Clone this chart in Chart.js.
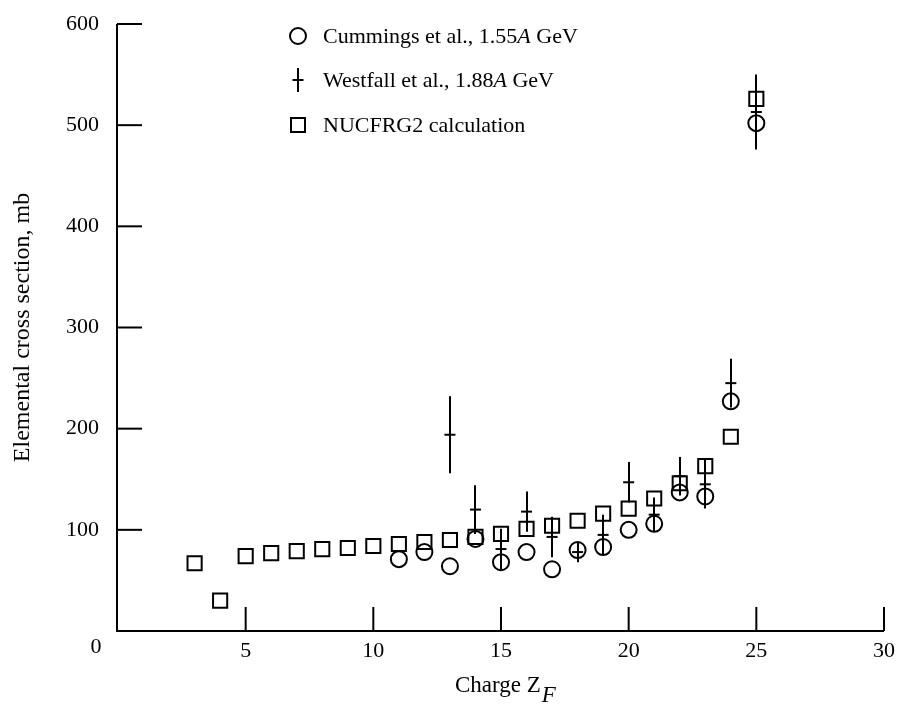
<!DOCTYPE html>
<html>
<head>
<meta charset="utf-8">
<script src="https://cdn.jsdelivr.net/npm/chart.js@4.4.0/dist/chart.umd.min.js"></script>
<style>
  html, body { margin: 0; padding: 0; background: #ffffff; }
  #wrap { width: 898px; height: 706px; }
</style>
</head>
<body>
<div id="wrap"><canvas id="c" width="898" height="706"></canvas></div>
<script>
// ---- Data ----
const nucfrgZ     = [3, 4, 5, 6, 7, 8, 9, 10, 11, 12, 13, 14, 15, 16, 17, 18, 19, 20, 21, 22, 23, 24, 25];
const nucfrgSigma = [67, 30, 74, 77, 79, 81, 82, 84, 86, 88, 90, 93, 96, 101, 104, 109, 116, 121, 131, 146, 163, 192, 526];

const cummingsZ     = [11, 12, 13, 14, 15, 16, 17, 18, 19, 20, 21, 22, 23, 24, 25];
const cummingsSigma = [71, 78, 64, 91, 68, 78, 61, 80, 83, 100, 106, 137, 133, 227, 502];

const westfallZ     = [13, 14, 15, 16, 17, 18, 19, 20, 21, 22, 23, 24, 25];
const westfallSigma = [194, 120, 81, 118, 93, 78, 95, 147, 115, 153, 145, 245, 513];
const westfallErr   = [38, 24, 20, 20, 20, 10, 20, 20, 17, 19, 24, 24, 37];

const xTicks = [0, 5, 10, 15, 20, 25, 30];
const yTicks = [0, 100, 200, 300, 400, 500, 600];

const legendLabels = [
  ['Cummings et al., 1.55', 'A', ' GeV'],
  ['Westfall et al., 1.88', 'A', ' GeV'],
  ['NUCFRG2 calculation', '', '']
];

const FONT = '"Liberation Serif", "DejaVu Serif", serif';

function pts(xs, ys) { return xs.map((x, i) => ({ x: x, y: ys[i] })); }

const overlay = {
  id: 'overlay',
  afterDatasetsDraw(chart) {
    const ctx = chart.ctx;
    const xs = chart.scales.x, ys = chart.scales.y;
    const ca = chart.chartArea;
    ctx.save();
    ctx.strokeStyle = '#000';
    ctx.fillStyle = '#000';
    // error bars for Westfall
    ctx.lineWidth = 2;
    westfallZ.forEach((z, i) => {
      const px = Math.round(xs.getPixelForValue(z));
      const y1 = ys.getPixelForValue(westfallSigma[i] - westfallErr[i]);
      const y2 = ys.getPixelForValue(westfallSigma[i] + westfallErr[i]);
      ctx.beginPath();
      ctx.moveTo(px, y1);
      ctx.lineTo(px, y2);
      ctx.stroke();
    });
    // axes lines
    const axX = ca.left - 1;
    ctx.lineWidth = 2;
    ctx.beginPath();
    ctx.moveTo(axX, ys.getPixelForValue(600));
    ctx.lineTo(axX, ca.bottom);
    ctx.lineTo(xs.getPixelForValue(30), ca.bottom);
    ctx.stroke();
    // inward ticks
    xTicks.forEach(v => {
      if (v === 0) return;
      const px = xs.getPixelForValue(v);
      ctx.beginPath();
      ctx.moveTo(px, ca.bottom);
      ctx.lineTo(px, ca.bottom - 24);
      ctx.stroke();
    });
    yTicks.forEach(v => {
      if (v === 0) return;
      const py = ys.getPixelForValue(v);
      ctx.beginPath();
      ctx.moveTo(axX, py);
      ctx.lineTo(axX + 25, py);
      ctx.stroke();
    });
    // corner "0"
    ctx.font = '22px ' + FONT;
    ctx.textAlign = 'center';
    ctx.textBaseline = 'middle';
    ctx.fillText('0', 96, 647);

    // x axis title: Charge Z_F
    ctx.textAlign = 'left';
    ctx.textBaseline = 'alphabetic';
    ctx.font = '23px ' + FONT;
    const t1 = 'Charge Z';
    const w1 = ctx.measureText(t1).width;
    const startX = 455;
    ctx.fillText(t1, startX, 692);
    ctx.font = 'italic 23px ' + FONT;
    ctx.fillText('F', startX + w1 + 1, 702);

    // legend
    const lx = 298, tx = 323;
    const rows = [36, 80, 125];
    ctx.lineWidth = 2;
    ctx.beginPath();
    ctx.arc(lx, rows[0], 8, 0, Math.PI * 2);
    ctx.stroke();
    ctx.beginPath();
    ctx.moveTo(lx, rows[1] - 12);
    ctx.lineTo(lx, rows[1] + 12);
    ctx.moveTo(lx - 5.5, rows[1]);
    ctx.lineTo(lx + 5.5, rows[1]);
    ctx.stroke();
    ctx.strokeRect(lx - 7, rows[2] - 7, 14, 14);
    ctx.textBaseline = 'middle';
    legendLabels.forEach((parts, i) => {
      let x = tx;
      ctx.font = '22px ' + FONT;
      ctx.fillText(parts[0], x, rows[i] + 1);
      x += ctx.measureText(parts[0]).width;
      if (parts[1]) {
        ctx.font = 'italic 22px ' + FONT;
        ctx.fillText(parts[1], x, rows[i] + 1);
        x += ctx.measureText(parts[1]).width;
      }
      if (parts[2]) {
        ctx.font = '22px ' + FONT;
        ctx.fillText(parts[2], x, rows[i] + 1);
      }
    });
    ctx.restore();
  }
};

new Chart(document.getElementById('c'), {
  type: 'scatter',
  data: {
    datasets: [
      {
        label: 'NUCFRG2 calculation',
        data: pts(nucfrgZ, nucfrgSigma),
        pointStyle: 'rect',
        pointRadius: 10,
        borderColor: '#000',
        backgroundColor: 'rgba(0,0,0,0)',
        borderWidth: 2
      },
      {
        label: 'Cummings et al., 1.55A GeV',
        data: pts(cummingsZ, cummingsSigma),
        pointStyle: 'circle',
        pointRadius: 8,
        borderColor: '#000',
        backgroundColor: 'rgba(0,0,0,0)',
        borderWidth: 2
      },
      {
        label: 'Westfall et al., 1.88A GeV',
        data: pts(westfallZ, westfallSigma),
        pointStyle: 'line',
        pointRadius: 5.5,
        borderColor: '#000',
        backgroundColor: '#000',
        borderWidth: 2
      }
    ]
  },
  options: {
    responsive: false,
    animation: false,
    devicePixelRatio: 1,
    layout: { padding: { top: 24, right: 14, left: 0, bottom: 0 } },
    plugins: { legend: { display: false }, tooltip: { enabled: false } },
    scales: {
      x: {
        type: 'linear',
        min: 0, max: 30,
        afterBuildTicks: s => { s.ticks = xTicks.map(v => ({ value: v })); },
        afterFit: s => { s.height = 75; s.paddingLeft = 0; s.paddingRight = 0; },
        grid: { display: false, drawTicks: false },
        border: { display: false },
        ticks: {
          padding: 7,
          color: '#000',
          font: { family: FONT, size: 22 },
          callback: v => (v === 0 ? '' : String(v))
        }
      },
      y: {
        type: 'linear',
        min: 0, max: 600,
        afterBuildTicks: s => { s.ticks = yTicks.map(v => ({ value: v })); },
        afterFit: s => { s.width = 118; s.paddingTop = 0; s.paddingBottom = 0; },
        grid: { display: false, drawTicks: false },
        border: { display: false },
        title: {
          display: true,
          text: 'Elemental cross section, mb',
          color: '#000',
          font: { family: FONT, size: 24 },
          padding: { top: 8, bottom: 0 }
        },
        ticks: {
          padding: 19,
          color: '#000',
          font: { family: FONT, size: 22 },
          callback: v => (v === 0 ? '' : String(v))
        }
      }
    }
  },
  plugins: [overlay]
});
</script>
</body>
</html>
